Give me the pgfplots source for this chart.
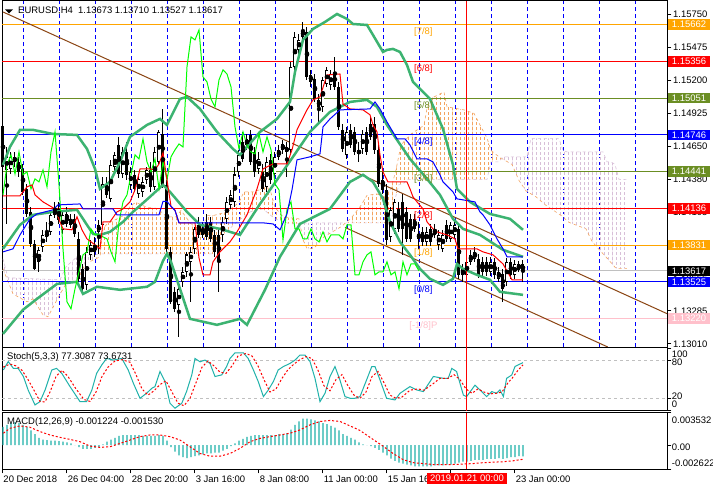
\documentclass[border=0pt]{standalone}
\usepackage{fontspec}
\setmainfont{Liberation Sans}
\usepackage{pgfplots}
\pgfplotsset{compat=1.18}
\usepackage{pgfplotstable}
\usetikzlibrary{patterns.meta}
\definecolor{mtolive}{RGB}{107,142,35}
\definecolor{mtorange}{RGB}{255,165,0}
\definecolor{mtpink}{RGB}{255,192,203}
\definecolor{mtsilver}{RGB}{192,192,192}
\definecolor{bbgreen}{RGB}{60,179,113}
\definecolor{lsgreen}{RGB}{32,178,170}
\definecolor{sandy}{RGB}{244,164,96}
\definecolor{thistle}{RGB}{216,191,216}
\definecolor{trendbrown}{RGB}{139,69,19}
\definecolor{mtlime}{RGB}{0,255,0}
\newcommand\mtfont{\fontsize{9.5}{11}\selectfont}

\pgfplotstableread{
i O H L C
0 1.14813 1.14871 1.14422 1.14481
1 1.14456 1.14647 1.14007 1.14564
2 1.14464 1.14605 1.14422 1.14564
3 1.14564 1.14605 1.14481 1.14522
4 1.14522 1.14564 1.14398 1.14439
5 1.14464 1.14505 1.14248 1.14273
6 1.14298 1.14339 1.14066 1.14090
7 1.14107 1.14149 1.13817 1.13841
8 1.13841 1.13875 1.13626 1.13634
9 1.13692 1.13817 1.13609 1.13792
10 1.13817 1.13958 1.13775 1.13916
11 1.13900 1.14024 1.13858 1.13941
12 1.13941 1.14107 1.13916 1.14082
13 1.14124 1.14190 1.14057 1.14082
14 1.14132 1.14190 1.14007 1.14041
15 1.13958 1.14124 1.13924 1.14082
16 1.14090 1.14149 1.13983 1.14007
17 1.14041 1.14090 1.13974 1.13999
18 1.14049 1.14090 1.13900 1.13924
19 1.13883 1.13941 1.13526 1.13551
20 1.13634 1.13675 1.13426 1.13468
21 1.13501 1.13817 1.13460 1.13775
22 1.13750 1.13875 1.13709 1.13833
23 1.13833 1.13900 1.13734 1.13775
24 1.13941 1.14041 1.13758 1.13999
25 1.13999 1.14398 1.13974 1.14339
26 1.14339 1.14398 1.14223 1.14248
27 1.14215 1.14539 1.14190 1.14497
28 1.14481 1.14605 1.14422 1.14580
29 1.14663 1.14730 1.14389 1.14422
30 1.14422 1.14647 1.14389 1.14605
31 1.14605 1.14688 1.14373 1.14415
32 1.14331 1.14481 1.14290 1.14439
33 1.14415 1.14456 1.14273 1.14298
34 1.14256 1.14422 1.14223 1.14381
35 1.14273 1.14398 1.14232 1.14356
36 1.14373 1.14481 1.14339 1.14456
37 1.14456 1.14522 1.14273 1.14315
38 1.14315 1.14647 1.14290 1.14605
39 1.14522 1.14788 1.14497 1.14771
40 1.14754 1.14962 1.14306 1.14331
41 1.14331 1.14373 1.13775 1.13800
42 1.13775 1.13817 1.13343 1.13360
43 1.13443 1.13485 1.13277 1.13302
44 1.13335 1.13485 1.13070 1.13468
45 1.13526 1.13651 1.13485 1.13609
46 1.13609 1.13775 1.13568 1.13750
47 1.13692 1.13817 1.13360 1.13775
48 1.13800 1.13983 1.13758 1.13966
49 1.13999 1.14066 1.13891 1.13916
50 1.13966 1.14024 1.13891 1.13916
51 1.14024 1.14090 1.13875 1.13900
52 1.14024 1.14066 1.13858 1.13883
53 1.13916 1.13958 1.13734 1.13775
54 1.13916 1.13958 1.13443 1.13692
55 1.13916 1.14066 1.13858 1.14024
56 1.14049 1.14232 1.14007 1.14190
57 1.14165 1.14290 1.14132 1.14248
58 1.14190 1.14481 1.14149 1.14415
59 1.14439 1.14622 1.14398 1.14580
60 1.14688 1.14771 1.14522 1.14547
61 1.14663 1.14754 1.14622 1.14713
62 1.14746 1.14788 1.14497 1.14522
63 1.14605 1.14647 1.14398 1.14439
64 1.14464 1.14605 1.14422 1.14547
65 1.14439 1.14505 1.14273 1.14298
66 1.14315 1.14564 1.14273 1.14522
67 1.14539 1.14589 1.14340 1.14373
68 1.14423 1.14605 1.14389 1.14564
69 1.14564 1.14663 1.14539 1.14622
70 1.14622 1.14704 1.14589 1.14671
71 1.14605 1.14688 1.14398 1.14646
72 1.14622 1.15352 1.14589 1.15311
73 1.15311 1.15601 1.15286 1.15560
74 1.15452 1.15584 1.15418 1.15535
75 1.15560 1.15684 1.15535 1.15618
76 1.15601 1.15643 1.15203 1.15228
77 1.15244 1.15286 1.15145 1.15186
78 1.15211 1.15252 1.15020 1.15045
79 1.15037 1.15086 1.14837 1.14979
80 1.14979 1.15228 1.14937 1.15203
81 1.15169 1.15311 1.15145 1.15286
82 1.15161 1.15286 1.15120 1.15252
83 1.15269 1.15394 1.15120 1.15145
84 1.15145 1.15186 1.14788 1.14813
85 1.14788 1.14837 1.14605 1.14630
86 1.14580 1.14813 1.14547 1.14771
87 1.14788 1.14837 1.14638 1.14663
88 1.14771 1.14813 1.14580 1.14605
89 1.14622 1.14688 1.14522 1.14589
90 1.14630 1.14788 1.14589 1.14754
91 1.14771 1.14813 1.14580 1.14605
92 1.14837 1.14896 1.14705 1.14730
93 1.14837 1.14896 1.14589 1.14622
94 1.14622 1.14688 1.14315 1.14339
95 1.14373 1.14440 1.14256 1.14290
96 1.14290 1.14339 1.13833 1.13875
97 1.13900 1.14149 1.13858 1.14124
98 1.13966 1.14215 1.13924 1.14190
99 1.14132 1.14190 1.13941 1.13966
100 1.14190 1.14256 1.13750 1.13966
101 1.14107 1.14149 1.13858 1.13883
102 1.14049 1.14090 1.13858 1.13883
103 1.14049 1.14090 1.13941 1.13966
104 1.13924 1.14024 1.13800 1.13883
105 1.13941 1.13983 1.13825 1.13858
106 1.13858 1.13983 1.13825 1.13941
107 1.13966 1.14007 1.13825 1.13858
108 1.13966 1.14007 1.13891 1.13916
109 1.13833 1.13958 1.13792 1.13916
110 1.13800 1.13958 1.13775 1.13916
111 1.13999 1.14041 1.13858 1.13883
112 1.13883 1.14024 1.13858 1.13999
113 1.13916 1.14041 1.13883 1.13999
114 1.13966 1.14007 1.13551 1.13584
115 1.13634 1.13675 1.13526 1.13584
116 1.13584 1.13734 1.13551 1.13692
117 1.13692 1.13792 1.13667 1.13750
118 1.13717 1.13817 1.13692 1.13775
119 1.13717 1.13758 1.13559 1.13584
120 1.13692 1.13734 1.13576 1.13609
121 1.13692 1.13734 1.13576 1.13609
122 1.13609 1.13734 1.13576 1.13692
123 1.13692 1.13725 1.13551 1.13584
124 1.13551 1.13651 1.13526 1.13609
125 1.13592 1.13634 1.13360 1.13468
126 1.13526 1.13725 1.13493 1.13692
127 1.13692 1.13725 1.13551 1.13584
128 1.13584 1.13709 1.13551 1.13675
129 1.13626 1.13700 1.13609 1.13675
130 1.13673 1.13710 1.13527 1.13617
}\candles

\pgfplotstableread{
i m
0 0.0020
1 0.0022
2 0.0024
3 0.0025
4 0.0024
5 0.0022
6 0.0020
7 0.0016
8 0.0012
9 0.0008
10 0.0006
11 0.00055
12 0.0005
13 0.0005
14 0.00045
15 0.0004
16 0.0003
17 0.0002
18 0.0
19 -0.0002
20 -0.0004
21 -0.0004
22 -0.0004
23 -0.0003
24 -0.0002
25 0.0001
26 0.0004
27 0.0006
28 0.0008
29 0.0010
30 0.0011
31 0.0011
32 0.0011
33 0.0011
34 0.0011
35 0.0010
36 0.0010
37 0.0010
38 0.0010
39 0.0011
40 0.0010
41 0.0005
42 -0.0002
43 -0.0007
44 -0.0011
45 -0.0013
46 -0.0014
47 -0.0013
48 -0.0012
49 -0.0011
50 -0.0010
51 -0.0009
52 -0.0009
53 -0.0008
54 -0.0008
55 -0.0006
56 -0.0004
57 -0.0001
58 0.0002
59 0.0005
60 0.0007
61 0.0009
62 0.0010
63 0.0011
64 0.0011
65 0.0011
66 0.0011
67 0.0011
68 0.0011
69 0.0012
70 0.0012
71 0.0013
72 0.0017
73 0.0022
74 0.0026
75 0.0029
76 0.0029
77 0.0028
78 0.0027
79 0.0026
80 0.0024
81 0.0023
82 0.0021
83 0.0019
84 0.0016
85 0.0012
86 0.0010
87 0.0008
88 0.0006
89 0.0003
90 0.0001
91 0.0
92 -0.0001
93 -0.0003
94 -0.0005
95 -0.0008
96 -0.0011
97 -0.00145
98 -0.0017
99 -0.0019
100 -0.0020
101 -0.0021
102 -0.0022
103 -0.0023
104 -0.0023
105 -0.0023
106 -0.0023
107 -0.0023
108 -0.0022
109 -0.0022
110 -0.0022
111 -0.0021
112 -0.0021
113 -0.0020
114 -0.0019
115 -0.0018
116 -0.0018
117 -0.0017
118 -0.0016
119 -0.0016
120 -0.0016
121 -0.0015
122 -0.0015
123 -0.0015
124 -0.0014
125 -0.0015
126 -0.0014
127 -0.0013
128 -0.0013
129 -0.0012
130 -0.001224
}\macdtab

\pgfplotsset{mtaxis/.style={
  scale only axis, width=665.3bp, xmin=-0.25, xmax=166.08, clip=false,
  axis line style={black, line width=1bp},
  tick style={black, line width=1bp}, tick align=outside, major tick length=4bp,
  xtick pos=left, ytick pos=right, xticklabels={}, yticklabels={},
  scaled x ticks=false, scaled y ticks=false}}
\tikzset{cloudO/.style={draw=none, pattern={Lines[angle=90,distance=4bp,line width=0.8bp]}, pattern color=sandy,
    postaction={pattern={Lines[angle=0,distance=5bp,line width=1.7bp]}, pattern color=white}},
  cloudT/.style={draw=none, pattern={Lines[angle=90,distance=4bp,line width=0.8bp]}, pattern color=thistle,
    postaction={pattern={Lines[angle=0,distance=5bp,line width=1.7bp]}, pattern color=white}}}

\begin{document}
\begin{tikzpicture}
\useasboundingbox (0bp,0bp) rectangle (713bp,-491bp);
\fill[white] (0bp,0bp) rectangle (713bp,-491bp);

% ---------------- main price panel ----------------
\begin{axis}[mtaxis, name=main, at={(2bp,-1bp)}, anchor=north west, height=346bp,
  ymin=1.12985, ymax=1.15858,
  xtick={5,14,...,158}, xtick style={draw=none},
  xmajorgrids, grid style={blue, line width=0.9bp, dash pattern=on 4bp off 3bp},
  ytick={1.1575,1.15475,1.152,1.14925,1.1465,1.14375,1.141,1.13825,1.1355,1.13285,1.1301}]

% Ichimoku cloud (kumo) between Senkou span A and span B
\addplot[cloudT] coordinates {(0,1.13634) (2.5,1.13426) (6,1.13360) (7.5,1.13385) (10,1.13252) (11.25,1.13236) (13.5,1.13377) (16,1.13526) (18.5,1.13526) (20.5,1.13675) (24.25,1.13734) (24.33,1.13758) (24.25,1.13758) (18.5,1.13734) (15.75,1.13651) (14.25,1.13543) (1.25,1.13560) (0,1.13717)};
\addplot[cloudO] coordinates {(24.33,1.13758) (25,1.13966) (26,1.14007) (30.25,1.14078) (32,1.14161) (33.25,1.14186) (36,1.14144) (38.5,1.14136) (41,1.14066) (43.25,1.14066) (44.5,1.14119) (47,1.14007) (50.25,1.13966) (51,1.14078) (52.75,1.14078) (56,1.14107) (59,1.14186) (60.25,1.14273) (62.75,1.14273) (66,1.14315) (67,1.14265) (68,1.14144) (70,1.14066) (74,1.14049) (74.22,1.14011) (71.75,1.14007) (68,1.14049) (65,1.14132) (61.75,1.14107) (58.5,1.14024) (55,1.13916) (52.5,1.13758)};
\addplot[cloudT] coordinates {(74.22,1.14011) (75,1.13875) (76,1.13804) (77.75,1.13804) (80.25,1.13900) (84.5,1.13983) (85.68,1.14016) (77,1.14016)};
\addplot[cloudO] coordinates {(85.68,1.14016) (87,1.14053) (89.5,1.14161) (91,1.14244) (93.5,1.14256) (95.25,1.14232) (97,1.14298) (98.25,1.14456) (99.5,1.14663) (102,1.14754) (105.25,1.14825) (106,1.14966) (107,1.15049) (110.25,1.15103) (111,1.14979) (115.25,1.14954) (117.75,1.14925) (119.5,1.14813) (121,1.14721) (122,1.14617) (124,1.14564) (124.69,1.14551) (124,1.14522) (122,1.14522) (121,1.14377) (101,1.14377) (100,1.14335) (99,1.14335) (98,1.14211) (97,1.14016)};
\addplot[cloudT] coordinates {(124.69,1.14551) (127.25,1.14501) (129,1.14368) (130.75,1.14281) (133.25,1.14232) (135.75,1.14161) (139.5,1.14078) (141.5,1.14020) (145.75,1.13966) (147.25,1.13862) (149,1.13796) (151.5,1.13705) (153.25,1.13638) (156,1.13638) (156,1.14377) (154,1.14377) (153,1.14501) (152,1.14522) (151,1.14522) (150,1.14605) (141,1.14605) (140,1.14617) (139,1.14717) (132,1.14717) (131,1.14564) (125,1.14564)};
\addplot[sandy, dashed, line width=0.6bp] coordinates {
(0,1.13634) (2.5,1.13426) (6,1.13360) (7.5,1.13385) (10,1.13252) (11.25,1.13236) (13.5,1.13377) (16,1.13526) (18.5,1.13526) (20.5,1.13675) (24.25,1.13734) (25,1.13966) (26,1.14007) (30.25,1.14078) (32,1.14161) (33.25,1.14186) (36,1.14144) (38.5,1.14136) (41,1.14066) (43.25,1.14066) (44.5,1.14119) (47,1.14007) (50.25,1.13966) (51,1.14078) (52.75,1.14078) (56,1.14107) (59,1.14186) (60.25,1.14273) (62.75,1.14273) (66,1.14315) (67,1.14265) (68,1.14144) (70,1.14066) (74,1.14049) (75,1.13875) (76,1.13804) (77.75,1.13804) (80.25,1.13900) (84.5,1.13983) (87,1.14053) (89.5,1.14161) (91,1.14244) (93.5,1.14256) (95.25,1.14232) (97,1.14298) (98.25,1.14456) (99.5,1.14663) (102,1.14754) (105.25,1.14825) (106,1.14966) (107,1.15049) (110.25,1.15103) (111,1.14979) (115.25,1.14954) (117.75,1.14925) (119.5,1.14813) (121,1.14721) (122,1.14617) (124,1.14564) (127.25,1.14501) (129,1.14368) (130.75,1.14281) (133.25,1.14232) (135.75,1.14161) (139.5,1.14078) (141.5,1.14020) (145.75,1.13966) (147.25,1.13862) (149,1.13796) (151.5,1.13705) (153.25,1.13638) (156,1.13638)};
\addplot[thistle, dashed, line width=0.6bp] coordinates {
(0,1.13717) (1.25,1.13560) (14.25,1.13543) (15.75,1.13651) (18.5,1.13734) (24.25,1.13758) (52.5,1.13758) (55,1.13916) (58.5,1.14024) (61.75,1.14107) (65,1.14132) (68,1.14049) (71.75,1.14007) (77,1.14016) (97,1.14016) (98,1.14211) (99,1.14335) (100,1.14335) (101,1.14377) (121,1.14377) (122,1.14522) (124,1.14522) (125,1.14564) (131,1.14564) (132,1.14717) (139,1.14717) (140,1.14617) (141,1.14605) (150,1.14605) (151,1.14522) (152,1.14522) (153,1.14501) (154,1.14377) (156,1.14377)};

% Murray levels and current price
\addplot[mtorange, line width=1bp] coordinates {(-0.25,1.15662) (166.08,1.15662)};
\addplot[red, line width=1bp] coordinates {(-0.25,1.15356) (166.08,1.15356)};
\addplot[mtolive, line width=1bp] coordinates {(-0.25,1.15051) (166.08,1.15051)};
\addplot[blue, line width=1bp] coordinates {(-0.25,1.14746) (166.08,1.14746)};
\addplot[mtolive, line width=1bp] coordinates {(-0.25,1.14441) (166.08,1.14441)};
\addplot[red, line width=1bp] coordinates {(-0.25,1.14136) (166.08,1.14136)};
\addplot[mtorange, line width=1bp] coordinates {(-0.25,1.13831) (166.08,1.13831)};
\addplot[mtsilver, line width=1bp] coordinates {(-0.25,1.13617) (166.08,1.13617)};
\addplot[blue, line width=1bp] coordinates {(-0.25,1.13525) (166.08,1.13525)};
\addplot[mtpink, line width=1bp] coordinates {(-0.25,1.13220) (166.08,1.13220)};

% trend channel
\addplot[trendbrown, line width=1bp] coordinates {(0,1.15767) (166,1.13262)};
\addplot[trendbrown, line width=1bp] coordinates {(85.5,1.13978) (151.2,1.12985)};

% candles: wicks, bodies, hollow bullish bodies
\addplot[only marks, mark=none, error bars/.cd, y dir=both, y explicit, error mark=none,
  error bar style={black, line width=1bp}]
  table[x=i, y expr={(\thisrow{H}+\thisrow{L})/2}, y error expr={(\thisrow{H}-\thisrow{L})/2}] {\candles};
\addplot[only marks, mark=none, error bars/.cd, y dir=both, y explicit, error mark=none,
  error bar style={black, line width=3bp}]
  table[x=i, y expr={(\thisrow{O}+\thisrow{C})/2}, y error expr={abs(\thisrow{O}-\thisrow{C})/2+0.00003}] {\candles};
\addplot[only marks, mark=none, error bars/.cd, y dir=both, y explicit, error mark=none,
  error bar style={white, line width=1.1bp}]
  table[x=i, y expr={(\thisrow{O}+\thisrow{C})/2}, y error expr={max((\thisrow{C}-\thisrow{O})/2-0.00006,0)}] {\candles};

% Bollinger bands
\addplot[bbgreen, line width=2.5bp] coordinates {
(0,1.14497) (1.75,1.14647) (4.25,1.14788) (7.5,1.14788) (12.5,1.14754) (18.5,1.14746) (21,1.14630) (23,1.14464) (24.25,1.14298) (26.75,1.14356) (29.25,1.14522) (31.75,1.14730) (36,1.14829) (39.25,1.14879) (41,1.14829) (44.25,1.15045) (46,1.15062) (49.25,1.14962) (53.5,1.14771) (57.5,1.14630) (59.25,1.14580) (64.25,1.14771) (68.5,1.14879) (71.75,1.15020) (73,1.15269) (75,1.15535) (77.5,1.15626) (80.5,1.15684) (83.5,1.15750) (86,1.15709) (87.5,1.15667) (91,1.15659) (92.5,1.15576) (95,1.15435) (96,1.15452) (97.5,1.15460) (99.25,1.15435) (101,1.15327) (102.5,1.15186) (106.75,1.15045) (110,1.14796) (112.5,1.14497) (113.5,1.14298) (116.75,1.14190) (121.75,1.14090) (126.75,1.14049) (130,1.13958)};
\addplot[bbgreen, line width=2.5bp] coordinates {
(0,1.13800) (4.25,1.13999) (7.5,1.14082) (12.5,1.14107) (18.5,1.14124) (21,1.13999) (22.5,1.13924) (24.25,1.13916) (26.75,1.13941) (30,1.14024) (32.5,1.14107) (36.75,1.14232) (40,1.14331) (41.75,1.14273) (46,1.14107) (49.25,1.13999) (54.25,1.13966) (59.25,1.13916) (64.25,1.14173) (68.5,1.14373) (72.5,1.14564) (76.75,1.14771) (81.75,1.14937) (86.75,1.15020) (91,1.15037) (93.5,1.14979) (96,1.14829) (98.5,1.14705) (101.75,1.14547) (106,1.14381) (109.25,1.14248) (112.5,1.14049) (115,1.13966) (119.25,1.13916) (125,1.13792) (130,1.13734)};
\addplot[bbgreen, line width=2.5bp] coordinates {
(0,1.13094) (5,1.13294) (8.5,1.13385) (13.5,1.13509) (18.5,1.13526) (20,1.13426) (23.5,1.13485) (29.25,1.13460) (36,1.13485) (38,1.13526) (40,1.13700) (41,1.13760) (42,1.13692) (44.25,1.13468) (46.75,1.13219) (53.5,1.13169) (59.25,1.13219) (61,1.13169) (65.5,1.13460) (69.25,1.13734) (74.25,1.14007) (81.75,1.14132) (86.75,1.14356) (90,1.14415) (92.5,1.14356) (95,1.14215) (96.75,1.14024) (99.25,1.13858) (101.75,1.13750) (104.25,1.13634) (106.75,1.13551) (110,1.13501) (112.5,1.13551) (113.5,1.13675) (115,1.13634) (118.5,1.13584) (121.75,1.13543) (124.25,1.13443) (130,1.13418)};

% Ichimoku lines
\addplot[mtlime, line width=1bp] table[x expr=\thisrow{i}-26, y=C, skip coords between index={0}{26}] {\candles};
\addplot[red, line width=1bp] coordinates {
(0,1.14240) (4.25,1.14240) (6,1.14315) (7.25,1.14331) (8,1.14248) (10,1.14190) (13,1.14132) (14.25,1.14024) (15,1.13966) (17.25,1.13958) (18.5,1.14066) (19.75,1.13958) (21,1.13883) (23,1.13833) (24.25,1.13800) (25,1.14024) (26.75,1.14024) (28.5,1.14107) (30,1.14132) (31.75,1.14190) (33,1.14290) (34.25,1.14464) (36.75,1.14464) (38,1.14456) (39,1.14505) (40,1.14597) (41,1.14373) (42,1.14153) (43,1.14120) (44,1.14016) (48,1.14016) (49,1.13725) (50,1.13584) (51.75,1.13584) (52.5,1.13692) (54.25,1.13775) (56.75,1.13858) (58.5,1.13941) (61,1.14082) (63.5,1.14298) (65,1.14464) (67.5,1.14505) (71,1.14505) (72.25,1.14622) (73.5,1.14788) (76,1.14954) (77.5,1.15037) (79.25,1.15062) (81,1.15244) (84.25,1.15252) (85,1.15003) (86.75,1.14962) (90,1.14954) (91.75,1.14913) (92.5,1.14829) (93.5,1.14771) (94.25,1.14580) (95,1.14439) (96.25,1.14356) (101,1.14356) (101.75,1.14298) (102.5,1.14232) (103.5,1.14190) (105,1.14132) (106,1.14024) (107.5,1.13966) (108.5,1.13941) (111,1.13916) (113,1.13883) (113.75,1.13800) (118.5,1.13800) (120,1.13775) (122.5,1.13750) (125,1.13675) (127.25,1.13543) (130,1.13543)};
\addplot[blue, line width=1bp] coordinates {
(0,1.13775) (2.5,1.13800) (4.25,1.13916) (6.75,1.14049) (8.5,1.14090) (12.5,1.14124) (13.75,1.14165) (19.25,1.14173) (20,1.14132) (27.5,1.14132) (28.5,1.14082) (39,1.14082) (40,1.14194) (41,1.14194) (42,1.14153) (43,1.14120) (44,1.14016) (65,1.14016) (67.5,1.14007) (69.25,1.13958) (71,1.14090) (72.25,1.14290) (73.5,1.14539) (76.75,1.14564) (79.25,1.14589) (80,1.14813) (81.75,1.14879) (84.25,1.14954) (91.75,1.14962) (93,1.15020) (94.25,1.14962) (96,1.14854) (98.5,1.14713) (100.5,1.14713) (101.75,1.14663) (103.5,1.14547) (106,1.14547) (107.5,1.14522) (109.25,1.14414) (110,1.14356) (112.5,1.14273) (113.5,1.14215) (118,1.14190) (119.25,1.14107) (120,1.14082) (121.75,1.13999) (123.5,1.13883) (125,1.13800) (126,1.13734) (130,1.13734)};

% crosshair
\addplot[red, line width=1bp] coordinates {(116,1.12985) (116,1.15858)};

% Murray labels
\node[text=mtorange, font=\mtfont, inner sep=0] at (axis cs:105.1,1.15662) [yshift=-7.6bp] {[7/8]};
\node[text=red, font=\mtfont, inner sep=0] at (axis cs:105.1,1.15356) [yshift=-7.6bp] {[6/8]};
\node[text=mtolive, font=\mtfont, inner sep=0] at (axis cs:105.1,1.15051) [yshift=-7.6bp] {[5/8]};
\node[text=blue, font=\mtfont, inner sep=0] at (axis cs:105.1,1.14746) [yshift=-7.6bp] {[4/8]};
\node[text=mtolive, font=\mtfont, inner sep=0] at (axis cs:105.1,1.14441) [yshift=-7.6bp] {[3/8]};
\node[text=red, font=\mtfont, inner sep=0] at (axis cs:105.1,1.14136) [yshift=-7.6bp] {[2/8]};
\node[text=mtorange, font=\mtfont, inner sep=0] at (axis cs:105.1,1.13831) [yshift=-7.6bp] {[1/8]};
\node[text=blue, font=\mtfont, inner sep=0] at (axis cs:105.1,1.13525) [yshift=-7.6bp] {[0/8]};
\node[text=mtpink, font=\mtfont, inner sep=0] at (axis cs:105.1,1.13220) [yshift=-7.6bp] {[-1/8]P};

% price scale labels
\node[anchor=west, inner sep=0, font=\mtfont, xshift=5.7bp] at (axis cs:166.08,1.1575) {1.15750};
\node[anchor=west, inner sep=0, font=\mtfont, xshift=5.7bp] at (axis cs:166.08,1.15475) {1.15475};
\node[anchor=west, inner sep=0, font=\mtfont, xshift=5.7bp] at (axis cs:166.08,1.152) {1.15200};
\node[anchor=west, inner sep=0, font=\mtfont, xshift=5.7bp] at (axis cs:166.08,1.14925) {1.14925};
\node[anchor=west, inner sep=0, font=\mtfont, xshift=5.7bp] at (axis cs:166.08,1.1465) {1.14650};
\node[anchor=west, inner sep=0, font=\mtfont, xshift=5.7bp] at (axis cs:166.08,1.14375) {1.14380};
\node[anchor=west, inner sep=0, font=\mtfont, xshift=5.7bp] at (axis cs:166.08,1.141) {1.14105};
\node[anchor=west, inner sep=0, font=\mtfont, xshift=5.7bp] at (axis cs:166.08,1.13825) {1.13830};
\node[anchor=west, inner sep=0, font=\mtfont, xshift=5.7bp] at (axis cs:166.08,1.1355) {1.13555};
\node[anchor=west, inner sep=0, font=\mtfont, xshift=5.7bp] at (axis cs:166.08,1.13285) {1.13285};
\node[anchor=west, inner sep=0, font=\mtfont, xshift=5.7bp] at (axis cs:166.08,1.1301) {1.13010};
\node[anchor=west, xshift=0.8bp, text=white, font=\mtfont, inner xsep=3.6bp, inner ysep=0pt, minimum height=10.5bp, fill=mtorange] at (axis cs:166.08,1.15662) {1.15662};
\node[anchor=west, xshift=0.8bp, text=white, font=\mtfont, inner xsep=3.6bp, inner ysep=0pt, minimum height=10.5bp, fill=red] at (axis cs:166.08,1.15356) {1.15356};
\node[anchor=west, xshift=0.8bp, text=white, font=\mtfont, inner xsep=3.6bp, inner ysep=0pt, minimum height=10.5bp, fill=mtolive] at (axis cs:166.08,1.15051) {1.15051};
\node[anchor=west, xshift=0.8bp, text=white, font=\mtfont, inner xsep=3.6bp, inner ysep=0pt, minimum height=10.5bp, fill=blue] at (axis cs:166.08,1.14746) {1.14746};
\node[anchor=west, xshift=0.8bp, text=white, font=\mtfont, inner xsep=3.6bp, inner ysep=0pt, minimum height=10.5bp, fill=mtolive] at (axis cs:166.08,1.14441) {1.14441};
\node[anchor=west, xshift=0.8bp, text=white, font=\mtfont, inner xsep=3.6bp, inner ysep=0pt, minimum height=10.5bp, fill=red] at (axis cs:166.08,1.14136) {1.14136};
\node[anchor=west, xshift=0.8bp, text=white, font=\mtfont, inner xsep=3.6bp, inner ysep=0pt, minimum height=10.5bp, fill=mtorange] at (axis cs:166.08,1.13831) {1.13831};
\node[anchor=west, xshift=0.8bp, text=white, font=\mtfont, inner xsep=3.6bp, inner ysep=0pt, minimum height=10.5bp, fill=black] at (axis cs:166.08,1.13617) {1.13617};
\node[anchor=west, xshift=0.8bp, text=white, font=\mtfont, inner xsep=3.6bp, inner ysep=0pt, minimum height=10.5bp, fill=blue] at (axis cs:166.08,1.13525) {1.13525};
\node[anchor=west, xshift=0.8bp, text=white, font=\mtfont, inner xsep=3.6bp, inner ysep=0pt, minimum height=10.5bp, fill=mtpink] at (axis cs:166.08,1.13220) {1.13220};
\end{axis}

% ---------------- stochastic panel ----------------
\begin{axis}[mtaxis, name=stoch, at={(2bp,-347bp)}, anchor=north west, height=63.7bp,
  ymin=0, ymax=102.4, xtick=\empty, ytick={0,20,80,100}]
\addplot[mtsilver, line width=1bp, dash pattern=on 3bp off 3bp] coordinates {(-0.25,20) (166.08,20)};
\addplot[mtsilver, line width=1bp, dash pattern=on 3bp off 3bp] coordinates {(-0.25,80) (166.08,80)};
\addplot[lsgreen, line width=1bp] coordinates {
(0.1,65.5) (1.3,79) (2.6,68) (3.8,68) (5.1,55) (6.3,33) (8,9.3) (9.25,14.6) (10.5,33) (12.2,65.5) (13.4,68) (14.7,60) (16.75,38.8) (19.25,14.6) (20.9,14.6) (22.2,33) (23.4,60) (24.7,73.6) (25.9,84) (27.6,81.4) (29.7,84) (31.3,65.5) (32.6,44) (34.25,20) (35.9,28) (37.2,36) (38,38.8) (39.25,63) (40.5,47) (41.75,12) (43,4) (44.7,12) (45.9,31) (47.2,57.6) (48,84) (49.25,78.6) (50.5,81.4) (51.75,76) (53,55) (54.7,57.6) (55.9,71) (56.75,84) (58,93) (60.1,93) (61.3,84) (62.6,65.5) (63.8,47) (65.1,22.7) (66.3,33) (67.6,47) (68.8,65.5) (70.1,71) (71.75,76) (73,81.4) (74.25,89.5) (75.5,89.5) (76.75,79) (78,52) (79.25,14.6) (80.5,28) (81.75,55) (83,71) (84.25,49) (85.5,22.7) (86.75,20) (88,20) (89.25,22.7) (90.9,49.5) (92.2,71) (93,71) (94.25,49.5) (95.9,20) (98,17.3) (99.25,28) (101.75,38.8) (103.4,33.4) (105.1,30.7) (107.6,55) (110.1,52) (111.3,52) (112.2,68) (113.4,63) (115.1,25) (115.9,22.7) (118,41) (119.25,33.4) (120.9,22.7) (122.2,30.7) (123.4,28) (124.25,33.4) (125.1,22.7) (125.9,52) (127.2,57.5) (128,71) (128.8,73.6) (130,77.31)};
\addplot[red, line width=1bp, dash pattern=on 2bp off 2bp] coordinates {
(0,70) (1.75,75) (3.25,72) (4.75,65) (6.25,50) (8,30) (9.25,15) (10.5,14) (11.75,30) (13.25,55) (14.75,65) (16.25,55) (18.25,35) (20.25,18) (21.75,15) (23.25,30) (24.75,55) (26.25,70) (28,80) (29.75,82) (31.75,78) (33.25,58) (34.75,35) (36.25,25) (37.75,32) (39.25,42) (40.75,48) (42.25,30) (43.75,12) (45.25,8) (46.75,20) (48.25,45) (49.75,70) (51.25,80) (52.75,72) (54.25,62) (55.75,60) (57.25,72) (58.75,88) (60.75,92) (62.25,88) (63.75,72) (65.25,50) (66.75,30) (68.25,35) (69.75,52) (71.25,66) (72.75,75) (74.25,82) (75.75,87) (77.25,84) (78.75,65) (80.25,40) (81.75,32) (83.25,50) (84.75,58) (86.25,40) (87.75,25) (89.25,20) (90.75,30) (92.25,55) (93.75,63) (95.25,45) (96.75,25) (98.25,20) (99.75,22) (101.75,33) (103.75,35) (105.25,33) (107.25,42) (109.25,52) (111.25,52) (112.75,58) (114.25,50) (115.75,35) (117.25,28) (118.75,35) (120.25,30) (121.75,27) (123.25,28) (124.75,30) (126.25,45) (127.25,52) (128.75,65) (130,73.67)};
\addplot[red, line width=1bp] coordinates {(116,0) (116,102.4)};
\node[anchor=west, inner sep=0, font=\mtfont, xshift=4.4bp] at (axis cs:166.08,91.2) {100};
\node[anchor=west, inner sep=0, font=\mtfont, xshift=4.4bp] at (axis cs:166.08,78.4) {80};
\node[anchor=west, inner sep=0, font=\mtfont, xshift=4.4bp] at (axis cs:166.08,22.6) {20};
\node[anchor=west, inner sep=0, font=\mtfont, xshift=4.4bp] at (axis cs:166.08,10.8) {0};
\end{axis}

% ---------------- MACD panel ----------------
\begin{axis}[mtaxis, name=macd, at={(2bp,-412.7bp)}, anchor=north west, height=56.6bp,
  ymin=-0.002622, ymax=0.003532,
  xtick={-0.25,16,32,48,64,80,96,112,128}, ytick={-0.002622,0,0.003532}]
\addplot[ybar, bar width=1.1bp, fill=lsgreen, draw=none] table[x=i, y=m] {\macdtab};
\addplot[red, line width=1bp, dash pattern=on 2bp off 2bp] coordinates {
(0.1,0.00130) (1.75,0.00184) (4.25,0.00210) (6.75,0.00195) (9.25,0.00148) (11.75,0.00111) (14.25,0.00085) (16.75,0.00063) (19.25,0.00038) (21.75,-0.0001) (24.25,-0.00024) (26.75,-0.00017) (29.25,0.00019) (31.75,0.00056) (34.25,0.00093) (36.75,0.00111) (39.25,0.00111) (41.75,0.00093) (44.25,0.00056) (46.75,-0.00017) (49.25,-0.0009) (51.75,-0.0012) (54.25,-0.0012) (56.75,-0.0009) (59.25,-0.00035) (61.75,0.00038) (64.25,0.00074) (66.75,0.00093) (69.25,0.00111) (71.75,0.0013) (74.25,0.00166) (76.75,0.00221) (79.25,0.00258) (81.75,0.00269) (84.25,0.00258) (86.75,0.0021) (89.25,0.0016) (92.5,0.00063) (95,-0.0001) (97.5,-0.0009) (100,-0.00156) (102.5,-0.0019) (105,-0.0020) (107.5,-0.0021) (110,-0.0021) (112.5,-0.0021) (115,-0.00205) (117.5,-0.0020) (120,-0.0019) (122.5,-0.00185) (125,-0.0018) (127.5,-0.0017) (130,-0.00153)};
\addplot[red, line width=1bp] coordinates {(116,-0.002622) (116,0.003532)};
\node[anchor=north west, inner sep=0, font=\mtfont, yshift=-6bp, xshift=1.3bp] at (axis cs:-0.25,-0.002622) {20 Dec 2018};
\node[anchor=north west, inner sep=0, font=\mtfont, yshift=-6bp, xshift=0.6bp] at (axis cs:16,-0.002622) {26 Dec 04:00};
\node[anchor=north west, inner sep=0, font=\mtfont, yshift=-6bp, xshift=0.6bp] at (axis cs:32,-0.002622) {28 Dec 20:00};
\node[anchor=north west, inner sep=0, font=\mtfont, yshift=-6bp, xshift=0.6bp] at (axis cs:48,-0.002622) {3 Jan 16:00};
\node[anchor=north west, inner sep=0, font=\mtfont, yshift=-6bp, xshift=0.6bp] at (axis cs:64,-0.002622) {8 Jan 08:00};
\node[anchor=north west, inner sep=0, font=\mtfont, yshift=-6bp, xshift=0.6bp] at (axis cs:80,-0.002622) {11 Jan 00:00};
\node[anchor=north west, inner sep=0, font=\mtfont, yshift=-6bp, xshift=0.6bp] at (axis cs:96,-0.002622) {15 Jan 16:00};
\node[anchor=north west, inner sep=0, font=\mtfont, yshift=-6bp, xshift=0.6bp] at (axis cs:128,-0.002622) {23 Jan 00:00};
\node[anchor=north, fill=red, text=white, font=\mtfont, inner xsep=3bp, inner ysep=2bp, yshift=-3.4bp] at (axis cs:116,-0.002622) {2019.01.21 00:00};
\node[anchor=west, inner sep=0, font=\mtfont, xshift=4.4bp] at (axis cs:166.08,0.00276) {0.003532};
\node[anchor=west, inner sep=0, font=\mtfont, xshift=4.4bp] at (axis cs:166.08,-0.00018) {0.00};
\node[anchor=west, inner sep=0, font=\mtfont, xshift=4.4bp] at (axis cs:166.08,-0.00196) {-0.002622};
\end{axis}

% panel captions
\fill[black] (5bp,-9.3bp) -- (13bp,-9.3bp) -- (9bp,-13.5bp) -- cycle;
\node[anchor=west, inner sep=0, font=\mtfont] at (18bp,-10.5bp) {EURUSD,H4\ \ 1.13673 1.13710 1.13527 1.13617};
\node[anchor=west, inner sep=0, font=\mtfont] at (7bp,-356.7bp) {Stoch(5,3,3) 77.3087 73.6731};
\node[anchor=west, inner sep=0, font=\mtfont] at (7bp,-422bp) {MACD(12,26,9) -0.001224 -0.001530};
\end{tikzpicture}
\end{document}
